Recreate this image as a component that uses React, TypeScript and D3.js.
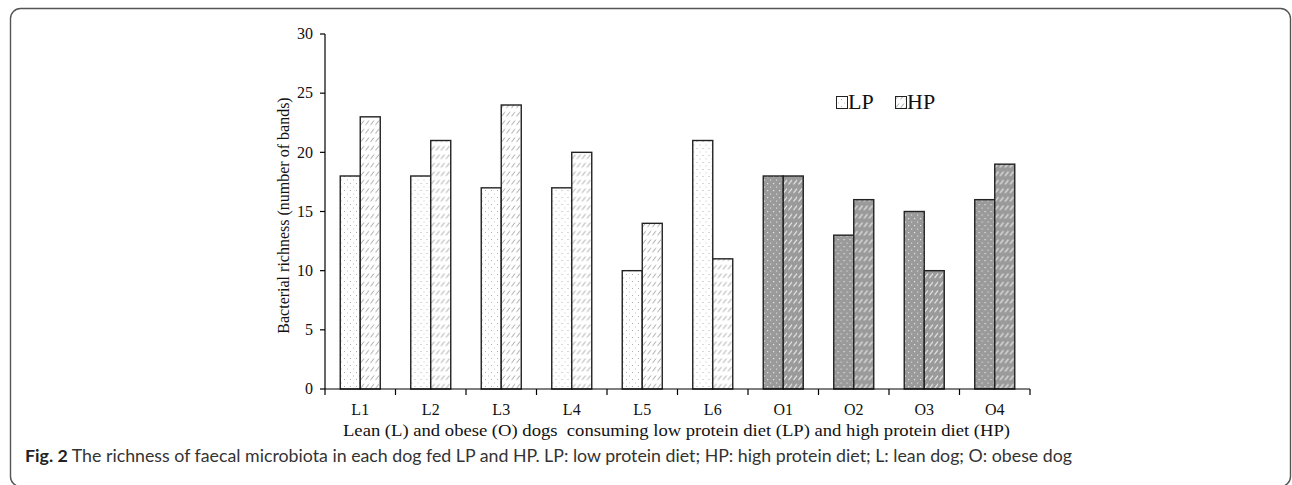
import React from 'react';
import * as d3 from 'd3';

const dogs = ['L1', 'L2', 'L3', 'L4', 'L5', 'L6', 'O1', 'O2', 'O3', 'O4'];
const lpValues = [18, 18, 17, 17, 10, 21, 18, 13, 15, 16];
const hpValues = [23, 21, 24, 20, 14, 11, 18, 16, 10, 19];
const series = ['LP', 'HP'];
const yTicks = [0, 5, 10, 15, 20, 25, 30];

const W = 1292;
const H = 485;
const margin = { left: 325, right: 262, top: 34, bottom: 96 };
const serif = '"Liberation Serif", "Times New Roman", serif';

const App: React.FC = () => {
  const x0 = d3.scaleBand<string>()
    .domain(dogs)
    .range([margin.left, W - margin.right])
    .paddingInner(0)
    .paddingOuter(0);

  const x1 = d3.scaleBand<string>()
    .domain(series)
    .range([0, x0.bandwidth()])
    .paddingInner(0)
    .paddingOuter(0.7625);

  const y = d3.scaleLinear()
    .domain([0, 30])
    .range([H - margin.bottom, margin.top]);

  const y0 = y(0);
  const xEnd = W - margin.right;

  const fillFor = (dog: string, s: string) => {
    const obese = dog.startsWith('O');
    if (s === 'LP') return obese ? 'url(#lpDark)' : 'url(#lpLight)';
    return obese ? 'url(#hpDark)' : 'url(#hpLight)';
  };

  return (
    <svg
      width={W}
      height={H}
      style={{ position: 'fixed', left: 0, top: 0, background: '#fff' }}
    >
      <defs>
        <pattern id="lpLight" width="6" height="7" patternUnits="userSpaceOnUse">
          <rect width="6" height="7" fill="#fff" />
          <rect x="1" y="1" width="1" height="1" fill="#b0b0b0" />
          <rect x="4" y="4.5" width="1" height="1" fill="#c4c4c4" />
        </pattern>
        <pattern id="hpLight" width="5" height="8.5" patternUnits="userSpaceOnUse">
          <rect width="5" height="8.5" fill="#fff" />
          <line x1="0.5" y1="6" x2="4" y2="1.5" stroke="#999" strokeWidth="0.9" />
        </pattern>
        <pattern id="lpDark" width="6" height="7" patternUnits="userSpaceOnUse">
          <rect width="6" height="7" fill="#9a9a9a" />
          <rect x="1" y="1" width="1.2" height="1.2" fill="#e6e6e6" />
          <rect x="4" y="4.5" width="1.2" height="1.2" fill="#d8d8d8" />
        </pattern>
        <pattern id="hpDark" width="5" height="8.5" patternUnits="userSpaceOnUse">
          <rect width="5" height="8.5" fill="#9a9a9a" />
          <line x1="0.5" y1="6" x2="4" y2="1.5" stroke="#eeeeee" strokeWidth="1" />
        </pattern>
      </defs>

      {/* frame */}
      <rect x={10.5} y={8.5} width={1280} height={478} rx={10} fill="none" stroke="#555" strokeWidth={1.4} />

      {/* bars */}
      {dogs.map((dog, i) => (
        <g key={dog} transform={`translate(${x0(dog)},0)`}>
          {series.map((s) => {
            const v = s === 'LP' ? lpValues[i] : hpValues[i];
            return (
              <rect
                key={s}
                x={x1(s)}
                y={y(v)}
                width={x1.bandwidth()}
                height={y0 - y(v)}
                fill={fillFor(dog, s)}
                stroke="#222"
                strokeWidth={1.4}
              />
            );
          })}
        </g>
      ))}

      {/* y axis */}
      <line x1={margin.left} x2={margin.left} y1={y(30)} y2={y0} stroke="#000" strokeWidth={1.2} />
      {yTicks.map((t) => (
        <g key={t}>
          <line x1={margin.left - 5} x2={margin.left} y1={y(t)} y2={y(t)} stroke="#000" strokeWidth={1.2} />
          <text
            x={margin.left - 12}
            y={y(t)}
            dy="0.33em"
            textAnchor="end"
            fontFamily={serif}
            fontSize={16}
            fill="#111"
          >
            {t}
          </text>
        </g>
      ))}

      {/* x axis */}
      <line x1={margin.left} x2={xEnd} y1={y0} y2={y0} stroke="#000" strokeWidth={1.2} />
      {[...dogs.map((d) => x0(d) as number), xEnd].map((tx, i) => (
        <line key={i} x1={tx} x2={tx} y1={y0} y2={y0 + 6} stroke="#000" strokeWidth={1.2} />
      ))}
      {dogs.map((d) => (
        <text
          key={d}
          x={(x0(d) as number) + x0.bandwidth() / 2}
          y={415}
          textAnchor="middle"
          fontFamily={serif}
          fontSize={16}
          fill="#111"
        >
          {d}
        </text>
      ))}

      {/* axis titles */}
      <text
        x={343}
        y={436}
        fontFamily={serif}
        fontSize={16}
        fill="#111"
        textLength={667}
        lengthAdjust="spacingAndGlyphs"
        style={{ whiteSpace: 'pre' }}
      >
        {'Lean (L) and obese (O) dogs  consuming low protein diet (LP) and high protein diet (HP)'}
      </text>
      <text
        transform={`translate(289,${(y(30) + y0) / 2 + 4}) rotate(-90)`}
        textAnchor="middle"
        fontFamily={serif}
        fontSize={16}
        fill="#111"
      >
        Bacterial richness (number of bands)
      </text>

      {/* legend */}
      <g fontFamily={serif} fontSize={22} fill="#111">
        <rect x={836.5} y={96.5} width={11} height={12} fill="url(#lpLight)" stroke="#222" strokeWidth={1} />
        <text x={848} y={109}>LP</text>
        <rect x={895.5} y={96.5} width={11} height={12} fill="url(#hpLight)" stroke="#222" strokeWidth={1} />
        <text x={907} y={109}>HP</text>
      </g>

      {/* caption */}
      <text
        x={25}
        y={462}
        fontFamily='"Lato", "Open Sans", sans-serif'
        fontSize={17}
        fill="#333"
        textLength={1047}
        lengthAdjust="spacingAndGlyphs"
      >
        <tspan fontWeight="bold" fill="#222">Fig. 2</tspan>
        {' The richness of faecal microbiota in each dog fed LP and HP. LP: low protein diet; HP: high protein diet; L: lean dog; O: obese dog'}
      </text>
    </svg>
  );
};

export default App;
